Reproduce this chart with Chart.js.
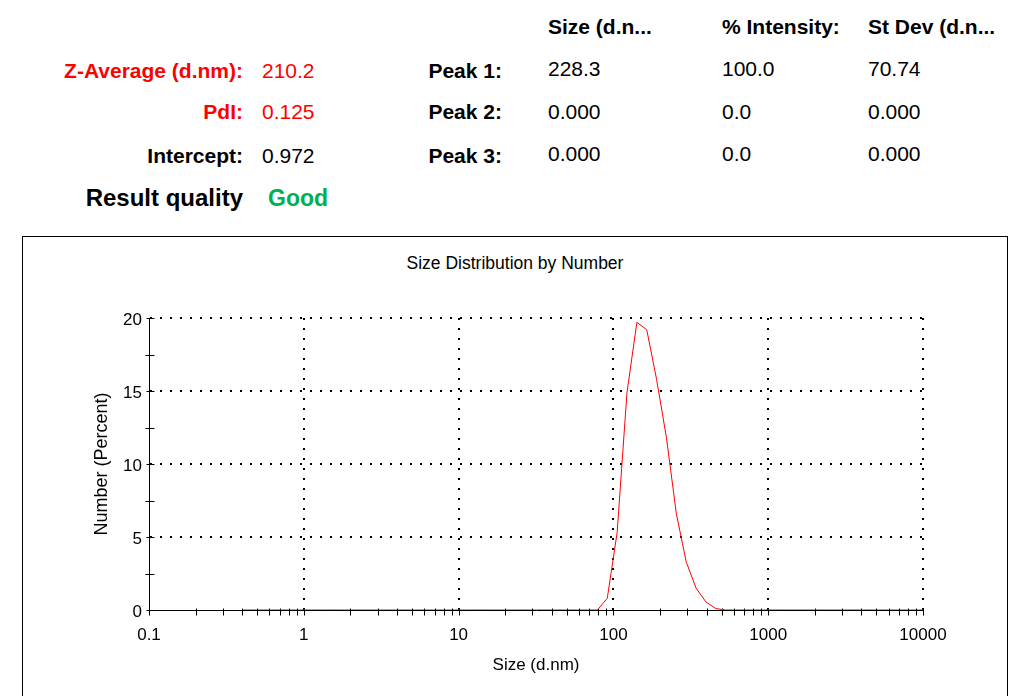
<!DOCTYPE html>
<html>
<head>
<meta charset="utf-8">
<script src="https://cdn.jsdelivr.net/npm/chart.js@4.4.1/dist/chart.umd.min.js"></script>
<style>
  html, body { margin: 0; padding: 0; background: #fff; }
  #page { position: relative; width: 1032px; height: 696px; overflow: hidden; font-family: "Liberation Sans", Arial, sans-serif; }
  .t { position: absolute; white-space: nowrap; line-height: 1; font-size: 21px; color: #000; }
  .b { font-weight: bold; }
  .red { color: #ff0000; }
  .green { color: #00b050; }
  #frame { position: absolute; left: 22px; top: 236px; width: 986px; height: 480px; border: 1px solid #000; box-sizing: border-box; }
  #wrap { position: absolute; left: 23px; top: 237px; width: 984px; height: 459px; }
  #chartTitle { position: absolute; left: 23px; width: 984px; top: 255px; text-align: center; font-size: 17.5px; line-height: 1; }
</style>
</head>
<body>
<div id="page">
  <!-- summary block, left -->
  <div class="t b red" style="right:789px; top:60px;">Z-Average (d.nm):</div>
  <div class="t red" style="left:262px; top:60px;">210.2</div>
  <div class="t b red" style="right:789px; top:101px;">PdI:</div>
  <div class="t red" style="left:262px; top:101px;">0.125</div>
  <div class="t b" style="right:789px; top:145px;">Intercept:</div>
  <div class="t" style="left:262px; top:145px;">0.972</div>
  <div class="t b" style="right:789px; top:186px; font-size:24px;">Result quality</div>
  <div class="t b green" style="left:268px; top:187px; font-size:23px;">Good</div>

  <!-- peak table -->
  <div class="t b" style="left:548px; top:16px;">Size (d.n...</div>
  <div class="t b" style="left:722px; top:16px;">% Intensity:</div>
  <div class="t b" style="left:868px; top:16px;">St Dev (d.n...</div>

  <div class="t b" style="right:530px; top:60px;">Peak 1:</div>
  <div class="t" style="left:548px; top:58px;">228.3</div>
  <div class="t" style="left:722px; top:58px;">100.0</div>
  <div class="t" style="left:868px; top:58px;">70.74</div>

  <div class="t b" style="right:530px; top:101px;">Peak 2:</div>
  <div class="t" style="left:548px; top:101px;">0.000</div>
  <div class="t" style="left:722px; top:101px;">0.0</div>
  <div class="t" style="left:868px; top:101px;">0.000</div>

  <div class="t b" style="right:530px; top:145px;">Peak 3:</div>
  <div class="t" style="left:548px; top:143px;">0.000</div>
  <div class="t" style="left:722px; top:143px;">0.0</div>
  <div class="t" style="left:868px; top:143px;">0.000</div>

  <div id="frame"></div>
  <div id="chartTitle">Size Distribution by Number</div>
  <div id="wrap"><canvas id="sizeChart" width="984" height="459"></canvas></div>
</div>

<script>
// size classes (d.nm)
const sizes = [
  0.4, 0.4632, 0.5365, 0.6213, 0.7195, 0.8332, 0.9649, 1.117, 1.294, 1.499,
  1.736, 2.010, 2.328, 2.696, 3.122, 3.615, 4.187, 4.849, 5.615, 6.503,
  7.531, 8.721, 10.10, 11.70, 13.54, 15.69, 18.17, 21.04, 24.36, 28.21,
  32.67, 37.84, 43.82, 50.75, 58.77, 68.06, 78.82, 91.28, 105.7, 122.4,
  141.8, 164.2, 190.1, 220.2, 255.0, 295.3, 342.0, 396.1, 458.7, 531.2,
  615.1, 712.4, 825.0, 955.4, 1106, 1281, 1484, 1718, 1990, 2305,
  2669, 3091, 3580, 4145, 4801, 5560, 6439, 7456, 8635, 10000
];

// number distribution (percent)
const numberPct = [
  0, 0, 0, 0, 0, 0, 0, 0, 0, 0,
  0, 0, 0, 0, 0, 0, 0, 0, 0, 0,
  0, 0, 0, 0, 0, 0, 0, 0, 0, 0,
  0, 0, 0, 0, 0, 0, 0, 0.8, 5.3, 14.9,
  19.7, 19.2, 15.8, 11.8, 6.6, 3.3, 1.5, 0.55, 0.1, 0,
  0, 0, 0, 0, 0, 0, 0, 0, 0, 0,
  0, 0, 0, 0, 0, 0, 0, 0, 0, 0
];

const xTicks = [0.1, 1, 10, 100, 1000, 10000];
const yTicks = [0, 5, 10, 15, 20];

const FONT = "'Liberation Sans', Arial, sans-serif";

// small tick marks crossing the axes (major + minor), like the instrument report
const axisTicks = {
  id: 'axisTicks',
  beforeDatasetsDraw(chart) {
    const { ctx, scales: { x, y }, chartArea } = chart;
    ctx.save();
    ctx.strokeStyle = '#000';
    ctx.lineWidth = 1;
    ctx.beginPath();
    const axisY = Math.round(chartArea.bottom) + 0.5;
    for (let i = 0; i < xTicks.length; i++) {
      const d = xTicks[i];
      const mults = i < xTicks.length - 1 ? [1, 2, 3, 4, 5, 6, 7, 8, 9] : [1];
      mults.forEach(m => {
        const px = Math.round(x.getPixelForValue(d * m)) + 0.5;
        ctx.moveTo(px, axisY - 2);
        ctx.lineTo(px, axisY + 5);
      });
    }
    const axisX = Math.round(chartArea.left) + 0.5;
    for (let i = 0; i < yTicks.length; i++) {
      const py = Math.round(y.getPixelForValue(yTicks[i])) + 0.5;
      ctx.moveTo(axisX - 3, py);
      ctx.lineTo(axisX + 5, py);
      if (i < yTicks.length - 1) {
        const mid = (yTicks[i] + yTicks[i + 1]) / 2;
        const pm = Math.round(y.getPixelForValue(mid)) + 0.5;
        ctx.moveTo(axisX - 4, pm);
        ctx.lineTo(axisX + 5, pm);
      }
    }
    ctx.stroke();
    ctx.restore();
  }
};

new Chart(document.getElementById('sizeChart'), {
  type: 'line',
  data: {
    datasets: [{
      label: 'Number',
      data: sizes.map((s, i) => ({ x: s, y: numberPct[i] })),
      borderColor: '#ff0000',
      borderWidth: 1,
      pointRadius: 0,
      tension: 0,
      fill: false
    }]
  },
  options: {
    responsive: false,
    animation: false,
    layout: { padding: { top: 81, left: 55, right: 84, bottom: 10 } },
    plugins: {
      legend: { display: false },
      tooltip: { enabled: false },
      title: { display: false }
    },
    scales: {
      x: {
        type: 'logarithmic',
        min: 0.1,
        max: 10000,
        afterBuildTicks: scale => { scale.ticks = xTicks.map(v => ({ value: v })); },
        afterFit: scale => { scale.height = 76; },
        ticks: {
          autoSkip: false,
          maxRotation: 0,
          padding: 15,
          color: '#000',
          font: { family: FONT, size: 17 },
          callback: v => String(v)
        },
        grid: {
          drawTicks: false,
          lineWidth: 2,
          color: c => (c.index === 0 ? 'rgba(0,0,0,0)' : '#000')
        },
        border: { display: true, color: '#000', width: 1, dash: [2, 8] },
        title: {
          display: true,
          text: 'Size (d.nm)',
          color: '#000',
          font: { family: FONT, size: 17 },
          padding: { top: 4, bottom: 10 }
        }
      },
      y: {
        min: 0,
        max: 20,
        afterBuildTicks: scale => { scale.ticks = yTicks.map(v => ({ value: v })); },
        afterFit: scale => { scale.width = 71; },
        ticks: {
          padding: 7,
          labelOffset: 2,
          color: '#000',
          font: { family: FONT, size: 17 }
        },
        grid: {
          drawTicks: false,
          lineWidth: 2,
          color: c => (c.index === 0 ? 'rgba(0,0,0,0)' : '#000')
        },
        border: { display: true, color: '#000', width: 1, dash: [2, 8] },
        title: {
          display: true,
          text: 'Number (Percent)',
          color: '#000',
          font: { family: FONT, size: 18 },
          padding: { top: 13, bottom: 0 }
        }
      }
    }
  },
  plugins: [axisTicks]
});
</script>
</body>
</html>
